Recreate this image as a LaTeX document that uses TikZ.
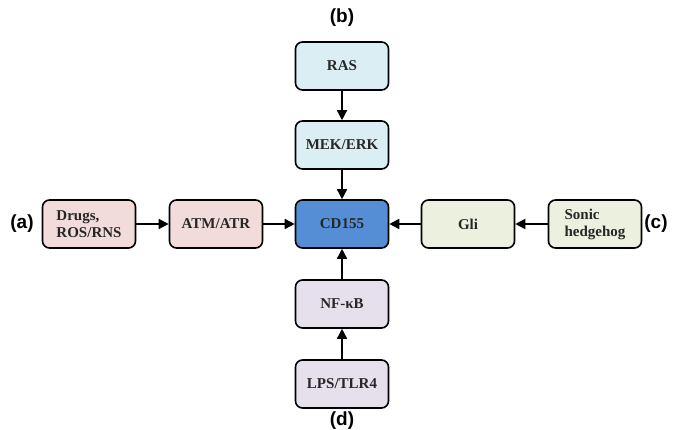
\documentclass[tikz,border=0pt]{standalone}
\usepackage{fontspec}
\setmainfont{Liberation Serif}
\newfontfamily\labfont{Liberation Sans}
\usetikzlibrary{arrows.meta}
\definecolor{cpink}{HTML}{F2DCDB}
\definecolor{cblue}{HTML}{DAEEF3}
\definecolor{cgreen}{HTML}{EBF1DE}
\definecolor{clav}{HTML}{E5E0EC}
\definecolor{ccore}{HTML}{558ED5}
\tikzset{
  box/.style={draw=black, line width=1.6pt, rounded corners=7pt, minimum width=93pt, minimum height=48pt, align=center, font=\fontsize{15}{17}\selectfont\bfseries, text=black!85},
  lab/.style={font=\labfont\fontsize{19}{21}\selectfont\bfseries},
  arr/.style={-{Triangle[length=10pt,width=10pt]}, line width=1.6pt}
}
\begin{document}
\begin{tikzpicture}[x=1pt,y=-1pt]
\useasboundingbox (0,0) rectangle (673,430);
\node[box, fill=cblue] (ras) at (342,66) {RAS};
\node[box, fill=cblue] (mek) at (342,145) {MEK/ERK};
\node[box, fill=ccore] (cd) at (342,224) {CD155};
\node[box, fill=clav] (nfkb) at (342,304) {NF-κB};
\node[box, fill=clav] (lps) at (342,384) {LPS/TLR4};
\node[box, fill=cpink, align=left] (drugs) at (89,224) {Drugs,\\ROS/RNS};
\node[box, fill=cpink] (atm) at (216,224) {ATM/ATR};
\node[box, fill=cgreen] (gli) at (468,224) {Gli};
\node[box, fill=cgreen, align=left] (shh) at (595,224) {Sonic\\hedgehog};
\node[lab] (la) at (22,224) {(a)};
\node[lab] (lb) at (342,18) {(b)};
\node[lab] (lc) at (656,224) {(c)};
\node[lab] (ld) at (342,421) {(d)};
\draw[arr] (ras) -- (mek);
\draw[arr] (mek) -- (cd);
\draw[arr] (lps) -- (nfkb);
\draw[arr] (nfkb) -- (cd);
\draw[arr] (drugs) -- (atm);
\draw[arr] (atm) -- (cd);
\draw[arr] (shh) -- (gli);
\draw[arr] (gli) -- (cd);
\end{tikzpicture}
\end{document}
